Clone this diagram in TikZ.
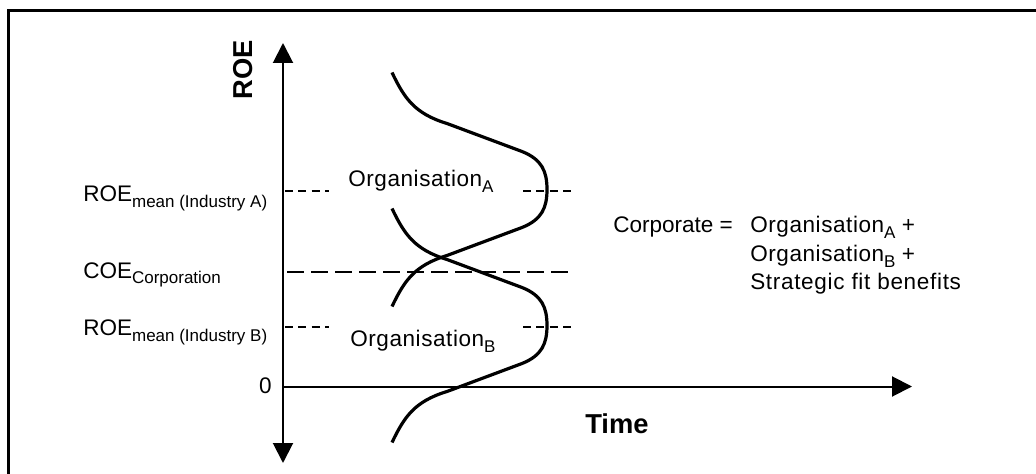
\documentclass[tikz,border=0pt]{standalone}
\usepackage{fontspec}
\setmainfont{Liberation Sans}
\usetikzlibrary{arrows.meta}
\newcommand{\subtxt}[1]{\raisebox{-4.5pt}{\fontsize{12.75}{14}\selectfont #1}}
\newcommand{\orgtxt}{{\addfontfeature{LetterSpace=2.5}Organisation}}
\begin{document}
\begin{tikzpicture}[x=0.75pt,y=-0.75pt,
  axis/.style={line width=1.5pt, -{Triangle[length=15pt,width=15pt]}},
  curve/.style={line width=2.4pt},
  shortdash/.style={line width=1.1pt, dash pattern=on 6pt off 4pt},
  longdash/.style={line width=1.1pt, dash pattern=on 13pt off 5pt},
  lbl/.style={inner sep=0pt, anchor=base west, font=\fontsize{16.9}{20}\selectfont},
  boldlbl/.style={inner sep=0pt, font=\fontsize{20.5}{24}\selectfont\bfseries},
]
\useasboundingbox (0,0) rectangle (1036,474);
% frame (cut by the picture's edges)
\coordinate (fbl) at (8.5,474);
\coordinate (ftl) at (8.5,10.5);
\coordinate (ftr) at (1036,10.5);
\draw[line width=1.8pt] (fbl) -- (ftl) -- (ftr);

% axes
\coordinate (ytop) at (283,43);
\coordinate (ybot) at (283,463);
\coordinate (orig) at (283,386.5);
\coordinate (xend) at (912,386.5);
\draw[line width=1.5pt, {Triangle[length=15pt,width=15pt]}-{Triangle[length=15pt,width=15pt]}] (ybot) -- (ytop);
\draw[axis] (orig) -- (xend);

% dashed levels
\draw[shortdash] (285,191) -- (329,191);
\draw[shortdash] (523,191) -- (572,191);
\draw[longdash] (287,272) -- (573,272);
\draw[shortdash] (285,327) -- (329,327);
\draw[shortdash] (523,327) -- (572,327);

% curve A
\draw[curve] (392,72.5) .. controls (404,97.5) and (414,113.5) .. (447,123.5)
  -- (522,151.5) .. controls (542,159.5) and (547,171.5) .. (547,189.5)
  .. controls (547,207.5) and (542,219.5) .. (522,227.5)
  -- (447,255.5) .. controls (414,265.5) and (404,281.5) .. (392,306.5);
% curve B
\begin{scope}[shift={(0,136)}]
\draw[curve] (392,72.5) .. controls (404,97.5) and (414,113.5) .. (447,123.5)
  -- (522,151.5) .. controls (542,159.5) and (547,171.5) .. (547,189.5)
  .. controls (547,207.5) and (542,219.5) .. (522,227.5)
  -- (447,255.5) .. controls (414,265.5) and (404,281.5) .. (392,306.5);
\end{scope}

% labels
\node[boldlbl, rotate=90] (roelab) at (243.5,70) {ROE};
\node[boldlbl, anchor=base west] (time) at (585,433) {Time};
\node[lbl] (roeA) at (83,202) {ROE\subtxt{mean (Industry A)}};
\node[lbl] (coe) at (83,278) {COE\subtxt{Corporation}};
\node[lbl] (roeB) at (83,335) {ROE\subtxt{mean (Industry B)}};
\node[lbl, anchor=base east] (zero) at (272,393) {0};
\node[lbl] (orgA) at (348,187) {\orgtxt\subtxt{A}};
\node[lbl] (orgB) at (350,346) {\orgtxt\subtxt{B}};
\node[lbl] (corp) at (613,233) {Corporate =};
\node[lbl] (eq1) at (750,233) {\orgtxt\subtxt{A} +};
\node[lbl] (eq2) at (750,262) {\orgtxt\subtxt{B} +};
\node[lbl] (eq3) at (750,290) {{\addfontfeature{LetterSpace=3}Strategic fit benefits}};
\end{tikzpicture}
\end{document}
